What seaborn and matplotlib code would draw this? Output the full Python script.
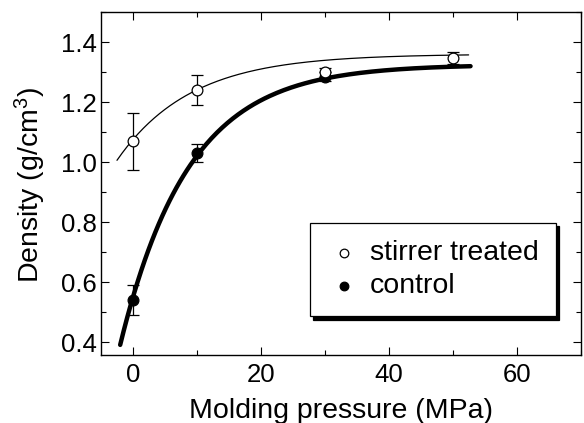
import numpy as np
import pandas as pd
import matplotlib
matplotlib.use("Agg")
import matplotlib.pyplot as plt
import seaborn as sns
from matplotlib.ticker import MultipleLocator

# ---- data ----
stirrer_pressure = [0, 10, 30, 50]
stirrer_density = [1.07, 1.24, 1.30, 1.347]
stirrer_err = [0.095, 0.05, 0.015, 0.02]
control_pressure = [0, 10, 30]
control_density = [0.54, 1.03, 1.285]
control_err = [0.05, 0.03, 0.015]

# fitted curves y = A - B*exp(-x/C), plotted over a range
stirrer_fit = dict(A=1.36, B=0.285, C=11.5, x0=-2.5, x1=52.5)
control_fit = dict(A=1.325, B=0.775, C=10.7, x0=-2.0, x1=52.8)

series_names = ["stirrer treated", "control"]

sns.set_theme(style="ticks")
plt.rcParams["font.family"] = ["Liberation Sans", "DejaVu Sans"]
plt.rcParams["mathtext.fontset"] = "custom"
plt.rcParams["mathtext.rm"] = "Liberation Sans"
plt.rcParams["mathtext.it"] = "Liberation Sans:italic"
plt.rcParams["text.color"] = "black"
plt.rcParams["axes.labelcolor"] = "black"
plt.rcParams["xtick.color"] = "black"
plt.rcParams["ytick.color"] = "black"

fig = plt.figure(figsize=(5.84, 4.23), dpi=100)
ax = fig.add_axes([101 / 584, 1 - 355 / 423, (580.5 - 101) / 584, (355 - 12) / 423])


def fit_frame(p):
    xs = np.linspace(p["x0"], p["x1"], 200)
    return pd.DataFrame({"x": xs, "y": p["A"] - p["B"] * np.exp(-xs / p["C"])})


sf = fit_frame(stirrer_fit)
cf = fit_frame(control_fit)
sns.lineplot(data=sf, x="x", y="y", ax=ax, color="black", lw=0.9, zorder=2)
sns.lineplot(data=cf, x="x", y="y", ax=ax, color="black", lw=3.2, zorder=2)

ax.errorbar(control_pressure, control_density, yerr=control_err, fmt="none",
            ecolor="black", elinewidth=0.9, capsize=4, capthick=0.9, zorder=3)
ax.errorbar(stirrer_pressure, stirrer_density, yerr=stirrer_err, fmt="none",
            ecolor="black", elinewidth=0.9, capsize=4, capthick=0.9, zorder=3)

dfc = pd.DataFrame({"x": control_pressure, "y": control_density})
dfs = pd.DataFrame({"x": stirrer_pressure, "y": stirrer_density})
sns.scatterplot(data=dfc, x="x", y="y", ax=ax, s=60, color="black",
                edgecolor="black", linewidth=0.9, zorder=4, label=series_names[1])
sns.scatterplot(data=dfs, x="x", y="y", ax=ax, s=60, color="white",
                edgecolor="black", linewidth=0.9, zorder=5, label=series_names[0])

ax.set_xlim(-5, 70)
ax.set_ylim(0.357, 1.5)
ax.xaxis.set_major_locator(MultipleLocator(20))
ax.xaxis.set_minor_locator(MultipleLocator(10))
ax.yaxis.set_major_locator(MultipleLocator(0.2))
ax.yaxis.set_minor_locator(MultipleLocator(0.1))
ax.yaxis.set_major_formatter(matplotlib.ticker.FormatStrFormatter("%.1f"))

ax.tick_params(which="both", direction="in", top=True, right=True,
               width=0.8, colors="black", labelsize=18.5)
ax.tick_params(which="major", length=6)
ax.tick_params(which="minor", length=3.5)
ax.tick_params(axis="y", which="major", pad=3)
ax.tick_params(axis="x", which="major", pad=6)
for s in ax.spines.values():
    s.set_linewidth(1.0)
    s.set_color("black")

ax.set_xlabel("Molding pressure (MPa)", fontsize=20.5, labelpad=7.5)
ax.set_ylabel("Density (g/cm$^3$)", fontsize=20.5)
ax.yaxis.set_label_coords(-0.111, 0.495)

h, l = ax.get_legend_handles_labels()
order = [l.index(series_names[0]), l.index(series_names[1])]
leg = ax.legend([h[i] for i in order], [l[i] for i in order],
                loc="upper left", bbox_to_anchor=((310 - 101) / 479.5, (355 - 223) / 343),
                fontsize=20.5, frameon=True, fancybox=False,
                shadow={"color": "black", "alpha": 1, "ox": 2.5, "oy": -2.5},
                handletextpad=0.3, borderpad=0.6, labelspacing=0.25,
                handlelength=1.2, borderaxespad=0, markerscale=0.8)
leg.get_frame().set_edgecolor("black")
leg.get_frame().set_linewidth(0.9)

fig.savefig("out.png", dpi=100)
